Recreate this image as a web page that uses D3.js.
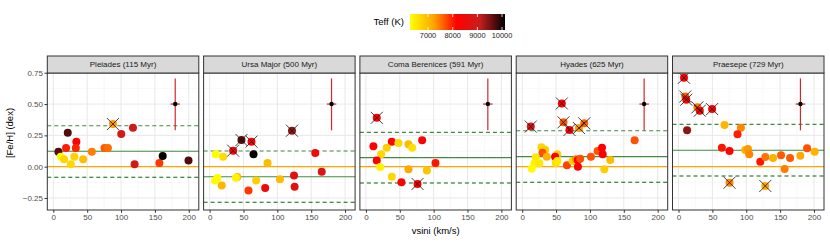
<!DOCTYPE html>
<html><head><meta charset="utf-8">
<script src="https://cdn.jsdelivr.net/npm/d3@7/dist/d3.min.js"></script>
<style>body{margin:0;background:#fff}text{font-family:"Liberation Sans",Arial,sans-serif}</style>
</head><body><svg id="c" width="830" height="242"></svg>
<script>
// ---- data ----
const clusters = ["Pleiades (115 Myr)","Ursa Major (500 Myr)","Coma Berenices (591 Myr)","Hyades (625 Myr)","Praesepe (729 Myr)"];
const meanFeH  = [0.123, -0.080, 0.072, 0.080, 0.131];
const upperFeH = [0.327, 0.125, 0.274, 0.287, 0.338];
const lowerFeH = [-0.085, -0.284, -0.130, -0.125, -0.074];
const refFeH = 0;
// error bar marker: [vsini, feh, yLow, yHigh, xHalf]
const errBar = [180, 0.50, 0.29, 0.705, 7];
// points: [vsini, [Fe/H], Teff, flagged]
const pleiades = [
 [88,0.34,7300,1],[117.6,0.31,8900,0],[100.3,0.26,8900,0],[21.3,0.27,9700,0],[34,0.20,8200,0],
 [18.8,0.15,8000,0],[33.2,0.15,7950,0],[56.9,0.12,7450,0],[75.6,0.15,7650,0],[80.6,0.15,7550,0],
 [7.5,0.12,9700,0],[11,0.08,6300,0],[15.9,0.06,6700,0],[25.8,0.02,6700,0],[31.1,0.08,6750,0],
 [44,0.06,6950,0],[120,0.02,8900,0],[156.6,0.03,7850,0],[161.5,0.085,10100,0],[199.6,0.05,9700,0]];
const ursaMajor = [
 [121.6,0.287,9400,1],[47,0.213,9700,1],[61.8,0.20,8200,1],[34.7,0.128,8200,1],[64.8,0.10,10100,0],
 [9,0.10,6300,0],[19.9,0.08,6650,0],[85.5,0.03,7000,0],[156,0.11,8400,0],[165.5,-0.04,8800,0],
 [124.6,-0.07,8700,0],[125.5,-0.16,8700,0],[103.8,-0.10,7000,0],[68.7,-0.11,6800,0],[41,-0.083,7000,0],
 [38.7,-0.088,6400,0],[11.5,-0.09,6300,0],[8,-0.11,6300,0],[17.9,-0.15,7050,0],[57.4,-0.19,7850,0],[82,-0.17,8400,0]];
const comaBer = [
 [16,0.39,8200,1],[76.2,-0.138,8200,1],[11,0.163,8200,0],[38.2,0.20,8250,0],[30.8,0.152,6800,0],
 [48,0.19,6700,0],[62.8,0.18,7000,0],[68.3,0.152,6600,0],[83,0.21,8300,0],[22.4,0.10,6700,0],
 [16,0.05,8200,0],[20.9,-0.003,6400,0],[102.7,0.03,8050,0],[62.8,-0.02,7200,0],[90,-0.03,6900,0],
 [38.2,-0.08,6700,0],[52.4,-0.125,8300,0]];
const hyades = [
 [12.6,0.32,8800,1],[58.5,0.505,8200,1],[60.9,0.354,7650,1],[69.8,0.293,8200,1],[83.7,0.309,7300,1],[91.6,0.346,7600,1],
 [166,0.21,7700,0],[28.4,0.155,6700,0],[33.8,0.135,6800,0],[29.9,0.112,7700,0],[20,0.075,6500,0],
 [36.3,0.08,7100,0],[18,0.027,6400,0],[25.3,0.027,6500,0],[14,-0.016,6300,0],[51.8,0.10,6800,0],
 [48.6,0.08,8200,0],[49.6,0.03,6600,0],[52,0.045,6500,0],[66,0.011,7800,0],[74.3,0.045,6800,0],
 [79.4,0.059,7400,0],[82.2,0.053,8200,0],[82.2,0.0,8200,0],[85.6,0.064,7700,0],[101.5,0.08,7700,0],
 [111.3,0.125,7700,0],[117.8,0.152,8200,0],[118.8,0.10,8200,0],[130,0.053,7000,0],[121.2,-0.02,6800,0]];
const praesepe = [
 [8.1,0.71,8200,1],[10,0.56,7600,1],[11.5,0.535,8150,1],[27.9,0.474,7500,1],[31.4,0.447,8150,1],[49.6,0.46,8200,1],
 [12.6,0.29,9400,0],[67.9,0.333,7050,0],[92.1,0.31,7400,0],[87.1,0.258,8000,0],[64,0.152,8050,0],
 [75.3,0.125,8150,0],[98.5,0.133,7100,0],[102.5,0.141,7300,0],[104.4,0.10,7400,0],[120.7,0.04,8050,0],
 [128.1,0.077,7500,0],[139.5,0.069,7100,0],[151.4,0.091,7650,0],[164.7,0.069,7650,0],[156.7,-0.018,7450,0],
 [179.9,0.088,7200,0],[189.8,0.147,7700,0],[201,0.12,7100,0],[75.3,-0.128,7400,1],[128.1,-0.154,7200,1]];
const clusterPoints = [pleiades, ursaMajor, comaBer, hyades, praesepe];
const xTicks = [0,50,100,150,200];
const xMinor = [25,75,125,175];
const yTicks = [-0.25,0,0.25,0.5,0.75];
const yMinor = [-0.125,0.125,0.375,0.625];
const teffTicks = [7000,8000,9000,10000];
const teffStops = [6270,7230,8160,9090,10120];
const teffColors = ["#ffff00","#ffa500","#ff0000","#c81e1e","#000000"];

// ---- layout ----
const svg = d3.select("#c");
const pTop = 73, pBot = 210, stripTop = 56, pW = 151.5, pStep = 156.3, pLeft0 = 47.3;
const x = d3.scaleLinear().domain([-8.9, 214.8]).range([0, pW]);
const y = d3.scaleLinear().domain([-0.346, 0.748]).range([pBot, pTop]);
const col = d3.scaleLinear().domain(teffStops).range(teffColors).clamp(true);
const FONT = "Liberation Sans, Arial, sans-serif";

clusters.forEach((name, i) => {
  const L = pLeft0 + i * pStep;
  const g = svg.append("g").attr("transform", `translate(${L},0)`);
  // grid
  g.selectAll(".vmin").data(xMinor).join("line").attr("x1", d=>x(d)).attr("x2", d=>x(d))
    .attr("y1", pTop).attr("y2", pBot).attr("stroke", "#f2f2f2").attr("stroke-width", 0.55);
  g.selectAll(".hmin").data(yMinor).join("line").attr("x1", 0).attr("x2", pW)
    .attr("y1", d=>y(d)).attr("y2", d=>y(d)).attr("stroke", "#f2f2f2").attr("stroke-width", 0.55);
  g.selectAll(".vmaj").data(xTicks).join("line").attr("x1", d=>x(d)).attr("x2", d=>x(d))
    .attr("y1", pTop).attr("y2", pBot).attr("stroke", "#e8e8e8").attr("stroke-width", 1);
  g.selectAll(".hmaj").data(yTicks).join("line").attr("x1", 0).attr("x2", pW)
    .attr("y1", d=>y(d)).attr("y2", d=>y(d)).attr("stroke", "#e8e8e8").attr("stroke-width", 1);
  // reference lines
  g.append("line").attr("x1",0).attr("x2",pW).attr("y1",y(refFeH)).attr("y2",y(refFeH))
    .attr("stroke","#ffa500").attr("stroke-width",1.1);
  g.append("line").attr("x1",0).attr("x2",pW).attr("y1",y(meanFeH[i])).attr("y2",y(meanFeH[i]))
    .attr("stroke","#2f7f2f").attr("stroke-width",1.1).attr("opacity",0.9);
  g.append("line").attr("x1",0).attr("x2",pW).attr("y1",y(upperFeH[i])).attr("y2",y(upperFeH[i]))
    .attr("stroke","#3f8a3f").attr("stroke-width",1.1).attr("stroke-dasharray","4,3");
  g.append("line").attr("x1",0).attr("x2",pW).attr("y1",y(lowerFeH[i])).attr("y2",y(lowerFeH[i]))
    .attr("stroke","#0b650b").attr("stroke-width",1.1).attr("stroke-dasharray","4,3");
  // points
  const pts = clusterPoints[i];
  g.selectAll(".pt").data(pts).join("circle").attr("cx", d=>x(d[0])).attr("cy", d=>y(d[1]))
    .attr("r", 4).attr("fill", d=>col(d[2]));
  const fl = pts.filter(d=>d[3]);
  const s = 6;
  fl.forEach(d => {
    const cx = x(d[0]), cy = y(d[1]);
    g.append("path").attr("d", `M${cx-s},${cy-s}L${cx+s},${cy+s}M${cx-s},${cy+s}L${cx+s},${cy-s}`)
      .attr("stroke","#111").attr("stroke-width",0.8).attr("fill","none");
  });
  // error bar
  g.append("line").attr("x1",x(errBar[0])).attr("x2",x(errBar[0])).attr("y1",y(errBar[2])).attr("y2",y(errBar[3]))
    .attr("stroke","#cf2a2a").attr("stroke-width",1.2);
  g.append("line").attr("x1",x(errBar[0]-errBar[4])).attr("x2",x(errBar[0]+errBar[4])).attr("y1",y(errBar[1])).attr("y2",y(errBar[1]))
    .attr("stroke","#cf2a2a").attr("stroke-width",1.2);
  g.append("circle").attr("cx",x(errBar[0])).attr("cy",y(errBar[1])).attr("r",2.2).attr("fill","#000");
  // border
  g.append("rect").attr("x",0).attr("y",pTop).attr("width",pW).attr("height",pBot-pTop)
    .attr("fill","none").attr("stroke","#333").attr("stroke-width",1);
  // strip
  g.append("rect").attr("x",0).attr("y",stripTop).attr("width",pW).attr("height",pTop-stripTop)
    .attr("fill","#d9d9d9").attr("stroke","#333").attr("stroke-width",1);
  g.append("text").attr("x",pW/2).attr("y",(stripTop+pTop)/2).attr("dy","0.35em").attr("text-anchor","middle")
    .attr("font-size",8).attr("fill","#1a1a1a").text(name);
  // x axis
  const xa = g.append("g").attr("transform",`translate(0,${pBot})`)
    .call(d3.axisBottom(x).tickValues(xTicks).tickSize(2.8).tickPadding(1.5));
  xa.select(".domain").remove();
  xa.selectAll("line").attr("stroke","#333");
  xa.selectAll("text").attr("font-size",8).attr("fill","#4d4d4d").style("font-family",FONT);
  if (i === 0) {
    const ya = g.append("g").call(d3.axisLeft(y).tickValues(yTicks).tickSize(2.8).tickPadding(1.5)
      .tickFormat(d => (d < 0 ? "\u22120.25" : d3.format(".2f")(d))));
    ya.select(".domain").remove();
    ya.selectAll("line").attr("stroke","#333");
    ya.selectAll("text").attr("font-size",8).attr("fill","#4d4d4d").style("font-family",FONT);
  }
});

// axis titles
svg.append("text").attr("x", pLeft0 + (4*pStep + pW)/2).attr("y", 234).attr("text-anchor","middle")
  .attr("font-size",9.5).attr("fill","#000").text("vsini (km/s)");
svg.append("text").attr("transform",`translate(13,${(stripTop+pBot)/2}) rotate(-90)`).attr("text-anchor","middle")
  .attr("font-size",9.5).attr("fill","#000").text("[Fe/H] (dex)");

// legend colourbar
const lx0 = 410, lx1 = 505, ly0 = 14, ly1 = 30;
const defs = svg.append("defs");
const grad = defs.append("linearGradient").attr("id","tg");
const tMin = teffStops[0], tMax = teffStops[teffStops.length-1];
d3.range(0, 1.0001, 0.02).forEach(t => {
  grad.append("stop").attr("offset", t).attr("stop-color", col(tMin + t*(tMax-tMin)));
});
svg.append("rect").attr("x",lx0).attr("y",ly0).attr("width",lx1-lx0).attr("height",ly1-ly0).attr("fill","url(#tg)");
const lxs = d3.scaleLinear().domain([tMin, tMax]).range([lx0, lx1]);
teffTicks.forEach(t => {
  svg.append("line").attr("x1",lxs(t)).attr("x2",lxs(t)).attr("y1",ly0).attr("y2",ly0+3).attr("stroke","#fff").attr("stroke-width",0.8);
  svg.append("line").attr("x1",lxs(t)).attr("x2",lxs(t)).attr("y1",ly1-3).attr("y2",ly1).attr("stroke","#fff").attr("stroke-width",0.8);
  svg.append("text").attr("x",lxs(t)).attr("y",ly1+8).attr("text-anchor","middle").attr("font-size",7.4).attr("fill","#1a1a1a").text(t);
});
svg.append("text").attr("x",404).attr("y",(ly0+ly1)/2).attr("dy","0.35em").attr("text-anchor","end")
  .attr("font-size",9.5).attr("fill","#000").text("Teff (K)");
</script></body></html>
